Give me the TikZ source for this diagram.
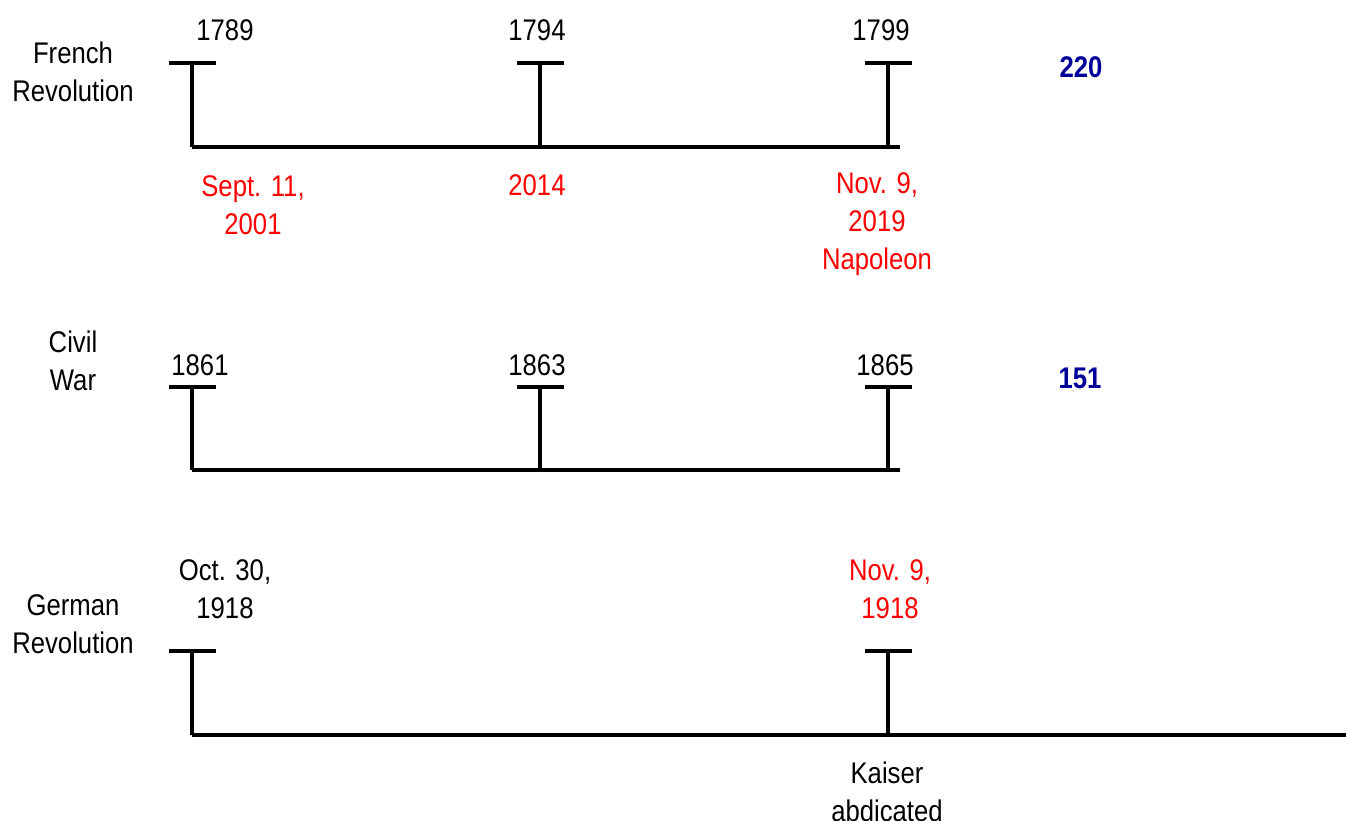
\documentclass[tikz,border=0pt]{standalone}
\usepackage{fontspec}
\setmainfont{Liberation Sans}[FakeStretch=0.86]
\usetikzlibrary{positioning}
\definecolor{datered}{RGB}{255,0,0}
\definecolor{spanblue}{RGB}{0,0,153}
\tikzset{
  axis/.style={line width=2.8pt},
  lbl/.style={inner sep=0pt, align=center},
  event/.style={lbl, text=datered},
  span/.style={lbl, text=spanblue, font=\fontsize{17}{21.6}\selectfont\bfseries}
}

\begin{document}
\begin{tikzpicture}[x=0.02cm, y=-0.02cm, font=\fontsize{17}{21.6}\selectfont]
\useasboundingbox (0,0) rectangle (1346,821);

% French Revolution
\node[lbl] (fr) at (73,72) {French\\Revolution};
\coordinate (fr0) at (192,147);
\coordinate (fr1) at (540,147);
\coordinate (fr2) at (888,147);
\coordinate (frend) at (900,147);
\draw[axis] (fr0) -- (frend);
\foreach \t in {fr0,fr1,fr2}
  \draw[axis] (\t) -- ++(0,-84) ++(-23.5,0) -- ++(47,0);
\node[lbl] (fra) at (225,30) {1789};
\node[lbl] (frb) at (537,30) {1794};
\node[lbl] (frc) at (881,30) {1799};
\node[event] (fre) at (253,205) {Sept. 11,\\2001};
\node[event] (frf) at (537,185) {2014};
\node[event] (frg) at (877,224) {Nov. 9,\\2019\\Napoleon};
\node[span] (frspan) at (1081,67) {220};

% Civil War
\node[lbl] (cw) at (73,361) {Civil\\War};
\coordinate (cw0) at (192,470);
\coordinate (cw1) at (540,470);
\coordinate (cw2) at (888,470);
\coordinate (cwend) at (900,470);
\draw[axis] (cw0) -- (cwend);
\foreach \t in {cw0,cw1,cw2}
  \draw[axis] (\t) -- ++(0,-83) ++(-23.5,0) -- ++(47,0);
\node[lbl] (cwa) at (200,365) {1861};
\node[lbl] (cwb) at (537,365) {1863};
\node[lbl] (cwc) at (885,365) {1865};
\node[span] (cwspan) at (1080,378) {151};

% German Revolution
\node[lbl] (gr) at (73,624) {German\\Revolution};
\coordinate (gr0) at (192,735);
\coordinate (gr1) at (888,735);
\coordinate (grend) at (1346,735);
\draw[axis] (gr0) -- (grend);
\foreach \t in {gr0,gr1}
  \draw[axis] (\t) -- ++(0,-84) ++(-23.5,0) -- ++(47,0);
\node[lbl] (gra) at (225,589) {Oct. 30,\\1918};
\node[event] (grb) at (890,589) {Nov. 9,\\1918};
\node[lbl] (grc) at (887,792) {Kaiser\\abdicated};
\end{tikzpicture}
\end{document}
